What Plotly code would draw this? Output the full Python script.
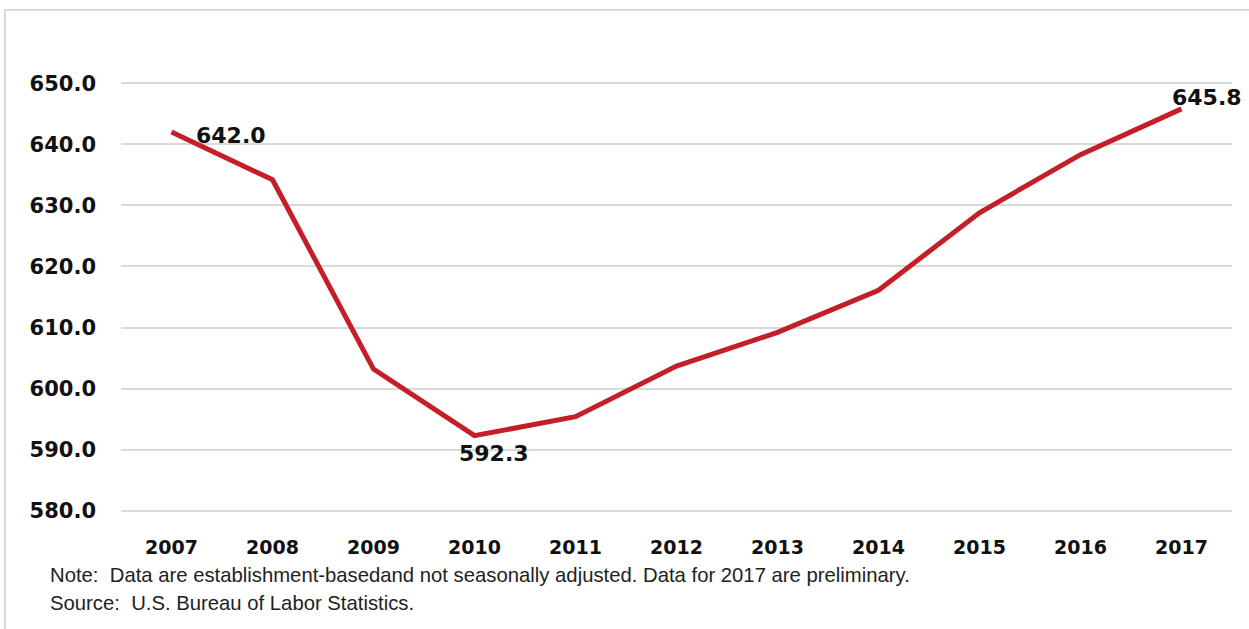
import plotly.graph_objects as go

# Annual employment level, thousands
years = ["2007", "2008", "2009", "2010", "2011", "2012",
         "2013", "2014", "2015", "2016", "2017"]
values = [642.0, 634.2, 603.2, 592.3, 595.4, 603.7,
          609.2, 616.1, 628.8, 638.3, 645.8]

y_ticks = [580, 590, 600, 610, 620, 630, 640, 650]
y_tick_text = [f"{v:.1f}" for v in y_ticks]

# Labelled points: (index, xshift, yshift)
labelled = [(0, 59, -3), (3, 19, -18), (10, 25, 11)]

W, H = 1249, 629
ML, MR, MT, MB = 121, 17, 82, 117
PW, PH = W - ML - MR, H - MT - MB

LINE_RED = "#C41E28"
GRID = "#D9D9D9"
TICK_FONT = "DejaVu Sans"

fig = go.Figure()
fig.add_trace(go.Scatter(
    x=list(range(len(years))), y=values, mode="lines",
    line=dict(color=LINE_RED, width=5),
    hoverinfo="y", showlegend=False,
))

for i, dx, dy in labelled:
    fig.add_annotation(
        x=i, y=values[i], xref="x", yref="y", text=f"{values[i]:.1f}",
        showarrow=False, xshift=dx, yshift=dy,
        font=dict(family=TICK_FONT, size=22, color="#111111", weight="bold"),
    )

# Footnotes below the axis
fig.add_annotation(
    x=(48 - ML) / PW, y=-(575 - (MT + PH)) / PH, xref="paper", yref="paper",
    xanchor="left", yanchor="middle", showarrow=False,
    text="Note:  Data are establishment-basedand not seasonally adjusted. Data for 2017 are preliminary.",
    font=dict(family="Liberation Sans", size=20.3, color="#222222"),
)
fig.add_annotation(
    x=(48 - ML) / PW, y=-(603 - (MT + PH)) / PH, xref="paper", yref="paper",
    xanchor="left", yanchor="middle", showarrow=False,
    text="Source:  U.S. Bureau of Labor Statistics.",
    font=dict(family="Liberation Sans", size=20.3, color="#222222"),
)

# Chart-area border (open on right and bottom edges of the frame)
bx0 = (5 - ML) / PW
bx1 = (W + 10 - ML) / PW
by_top = 1 + (MT - 10) / PH
by_bot = -(H + 10 - (MT + PH)) / PH
fig.add_shape(type="rect", xref="paper", yref="paper",
              x0=bx0, x1=bx1, y0=by_bot, y1=by_top,
              line=dict(color=GRID, width=2), layer="below")

fig.update_layout(
    width=W, height=H,
    margin=dict(l=ML, r=MR, t=MT, b=MB),
    paper_bgcolor="white", plot_bgcolor="white",
    xaxis=dict(
        range=[-0.5, len(years) - 0.5],
        tickvals=list(range(len(years))), ticktext=years,
        showgrid=False, zeroline=False, showline=False, ticks="",
        tickfont=dict(family=TICK_FONT, size=19, color="#111111", weight="bold"),
        ticklabelstandoff=22,
    ),
    yaxis=dict(
        range=[579.8, 650.2], tickvals=y_ticks, ticktext=y_tick_text,
        showgrid=True, gridcolor=GRID, gridwidth=2,
        zeroline=False, showline=False, ticks="",
        tickfont=dict(family=TICK_FONT, size=21, color="#111111", weight="bold"),
        ticklabelstandoff=24,
    ),
)

fig.write_html("out.html")
